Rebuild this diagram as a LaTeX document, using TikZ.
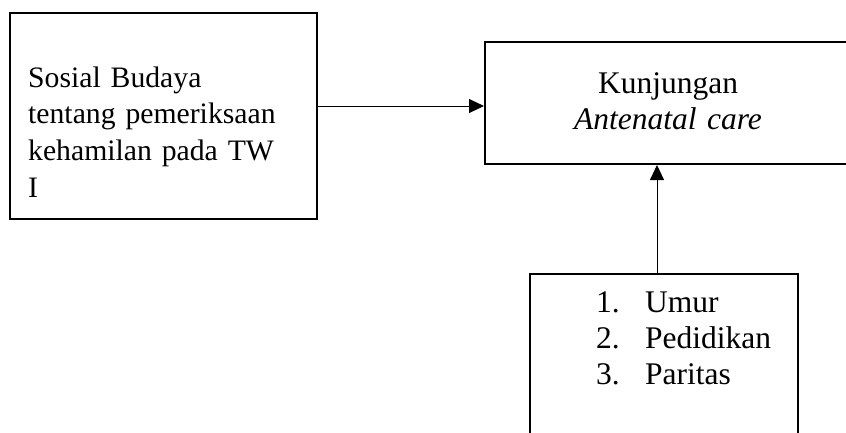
\documentclass[tikz,border=0pt]{standalone}
\usepackage{fontspec}
\setmainfont{Liberation Serif}
\usetikzlibrary{arrows.meta}

\begin{document}
\begin{tikzpicture}[x = 1pt, y = -1pt]
%\draw[very thin, color = gray](0, 0) grid[step = 50] (846, 432);
\tikzstyle{block} = [draw, rectangle, line width = 2pt, inner sep = 0pt];
\tikzstyle{txt} = [inner sep = 0pt, font = \fontsize{31.5}{36}\selectfont, align = left];
\tikzstyle{line} = [draw, line width = 0.9pt, -{Triangle[length = 15pt, width = 14pt]}]
\useasboundingbox (0, 0) rectangle (846, 432);
\node [block, minimum width = 307pt, minimum height = 206pt] at (163.5, 116) (sosbud) {};
\node [block, minimum width = 366pt, minimum height = 122pt] at (668, 103) (kunj) {};
\node [block, minimum width = 268pt, minimum height = 170pt] at (664, 359) (faktor) {};
\node [txt, font = \fontsize{29.7}{36.7}\selectfont, anchor = base west, text width = 290pt] at (28, 87) (sosbudtext) {Sosial Budaya\\ tentang pemeriksaan\\ kehamilan pada TW\\ I};
\node [txt, anchor = base, text width = 340pt, align = center] at (668, 93) (kunjtext) {Kunjungan\\ \textit{Antenatal care}};
\node [txt, anchor = base west, text width = 220pt] at (596, 312) (faktortext) {\makebox[49pt][l]{1.}Umur\\ \makebox[49pt][l]{2.}Pedidikan\\ \makebox[49pt][l]{3.}Paritas};
\path [line] ([yshift = -3pt]sosbud.east |- kunj.west) -- ([yshift = -3pt]kunj.west);
\path [line] ([xshift = -7pt]faktor.north) -- ([xshift = -7pt]faktor.north |- kunj.south);
\end{tikzpicture}
\end{document}
